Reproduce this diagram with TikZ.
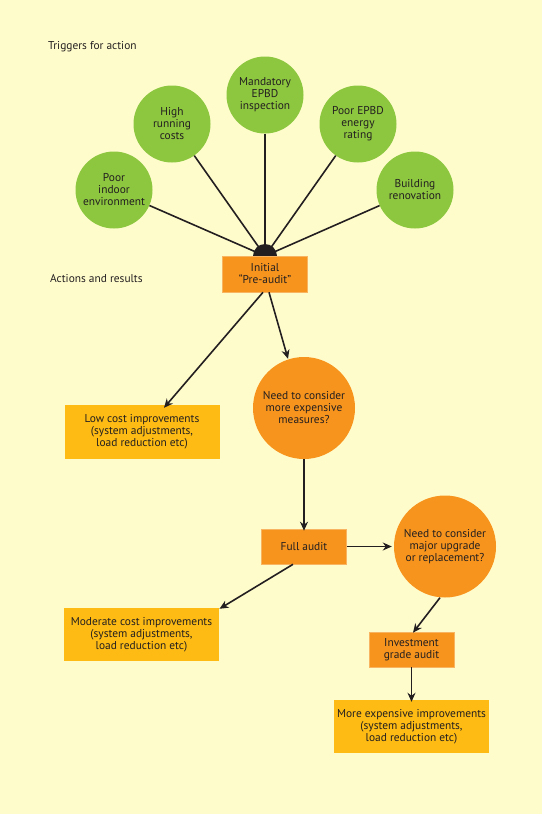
\documentclass[tikz,border=0pt]{standalone}
\usepackage{fontspec}
\setmainfont{PT Sans}
\usetikzlibrary{arrows.meta}
\definecolor{bg}{HTML}{FFFCCC}
\definecolor{grn}{HTML}{8DC63F}
\definecolor{org}{HTML}{F7941D}
\definecolor{ylw}{HTML}{FDBB13}
\definecolor{ink}{HTML}{231F20}
\begin{document}
\begin{tikzpicture}[x=1pt,y=-1pt,
  font=\fontsize{11.4}{12}\selectfont, text=ink,
  trig/.style={circle,fill=grn,minimum size=77pt,inner sep=0pt,align=center},
  quest/.style={circle,fill=org,minimum size=102pt,inner sep=0pt,align=center},
  act/.style={rectangle,fill=org,draw=org!70!white,line width=0.6pt,minimum width=85pt,minimum height=36pt,inner sep=0pt,align=center},
  res/.style={rectangle,fill=ylw,minimum width=155pt,minimum height=54pt,inner sep=0pt,align=center},
  link/.style={draw=ink,line width=1.6pt},
  arr/.style={draw=ink,line width=1.6pt,-{Stealth[length=9pt,width=8pt]}},
  lbl/.style={anchor=west,inner sep=0pt}]
\fill[bg] (0,0) rectangle (542,814);
\useasboundingbox (0,0) rectangle (542,814);
\node[lbl] (t1) at (48,47) {Triggers for action};
\node[lbl] (t2) at (50,279) {Actions and results};
\coordinate (hub) at (265,256);
\node[trig] (c1) at (114,190) {Poor\\indoor\\environment};
\node[trig] (c2) at (172,124) {High\\running\\costs};
\node[trig] (c3) at (265,95) {Mandatory\\EPBD\\inspection};
\node[trig] (c4) at (358,124) {Poor EPBD\\energy\\rating};
\node[trig] (c5) at (415,190) {Building\\renovation};
\foreach \c in {c1,c2,c3,c4,c5} \draw[link] (\c) -- (hub);
\fill[ink] (hub) ++(-12pt,0) arc[start angle=180,end angle=0,radius=12pt] -- cycle;
\node[act] (pre) at (265,274) {Initial\\``Pre-audit''};
\node[res] (low) at (142,432) {Low cost improvements\\(system adjustments,\\load reduction etc)};
\node[quest] (q1) at (304,408) {Need to consider\\more expensive\\measures?};
\node[act,minimum height=35pt] (full) at (304,546.5) {Full audit};
\node[quest] (q2) at (445,546.5) {Need to consider\\major upgrade\\or replacement?};
\node[res,minimum height=53pt] (mod) at (141.5,634.5) {Moderate cost improvements\\(system adjustments,\\load reduction etc)};
\node[act,minimum height=35pt] (inv) at (411.5,649.5) {Investment\\grade audit};
\node[res,minimum height=53pt] (more) at (411.5,726.5) {More expensive improvements\\(system adjustments,\\load reduction etc)};
\draw[arr] ([xshift=-2pt]pre.south) -- ([xshift=22pt,yshift=-3pt]low.north);
\draw[arr] ([xshift=4pt]pre.south) -- ([xshift=-16pt,yshift=-2pt]q1.north);
\draw[arr] (q1.south) -- ([yshift=-2pt]full.north);
\draw[arr] (full.east) -- ([xshift=-2pt]q2.west);
\draw[arr] ([xshift=-11pt]full.south) -- ([xshift=78pt,yshift=-1pt]mod.north);
\draw[arr] ([xshift=-5pt]q2.south) -- ([xshift=1.5pt,yshift=-1pt]inv.north);
\draw[arr] (inv.south) -- ([yshift=-2pt]more.north);
\end{tikzpicture}
\end{document}
